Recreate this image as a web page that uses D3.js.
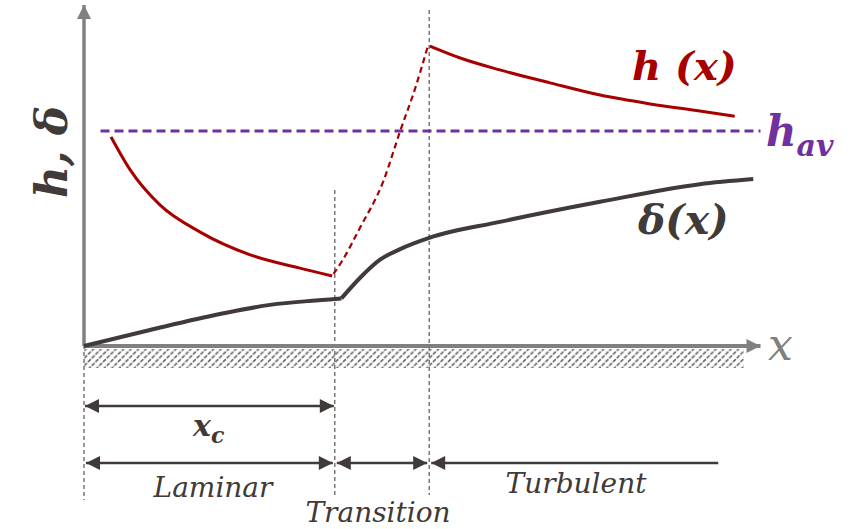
<!DOCTYPE html>
<html lang="en">
<head>
    <meta charset="UTF-8">
    <title>Boundary layer: h and delta</title>
    <style>
        body { margin: 0; padding: 0; background: #fff; }
        svg { display: block; }
        text { font-family: "DejaVu Serif", serif; font-style: italic; }
    </style>
</head>
<body>
<svg width="851" height="529" id="chart"></svg>

<script src="https://d3js.org/d3.v7.min.js"></script>
<script>
    // x position along the plate (0..10), y in arbitrary units (0..10)
    const xc = 3.80;          // end of laminar region
    const xTurb = 5.23;       // start of turbulent region
    const xPlateEnd = 10;
    const hav = 6.32;

    const deltaLaminarX = [0, 1.0, 2.06, 2.82, 3.45, 3.80, 3.90];
    const deltaLaminarY = [0, 0.47, 0.94, 1.21, 1.33, 1.38, 1.40];
    const deltaTurbX = [3.90, 4.18, 4.48, 4.79, 5.23, 6.30, 7.82, 9.33, 10.14];
    const deltaTurbY = [1.40, 2.00, 2.53, 2.85, 3.18, 3.65, 4.24, 4.76, 4.91];

    const hLaminarX = [0.41, 0.70, 1.15, 1.76, 2.52, 3.27, 3.76];
    const hLaminarY = [6.15, 5.18, 4.15, 3.35, 2.68, 2.29, 2.06];
    const hTransX = [3.78, 3.91, 4.18, 4.53, 4.79, 5.02, 5.21];
    const hTransY = [2.12, 2.50, 3.47, 4.82, 6.32, 7.59, 8.82];
    const hTurbX = [5.24, 5.70, 6.30, 7.06, 7.82, 8.58, 9.33, 9.86];
    const hTurbY = [8.82, 8.47, 8.12, 7.74, 7.38, 7.12, 6.91, 6.76];

    const zoneNames = ["Laminar", "Transition", "Turbulent"];
    const zoneStart = [0, xc, xTurb];
    const zoneEnd = [xc, xTurb, 9.61];

    const svg = d3.select("#chart");
    const x = d3.scaleLinear().domain([0, 10]).range([84, 744]);
    const y = d3.scaleLinear().domain([0, 10]).range([346, 6]);

    const red = "#a80000", dark = "#403a38", gray = "#808080", purple = "#7030a0";

    const defs = svg.append("defs");
    defs.append("pattern")
        .attr("id", "hatch")
        .attr("patternUnits", "userSpaceOnUse")
        .attr("width", 7.5).attr("height", 7.5)
        .append("path")
        .attr("d", "M-2,9.5 L9.5,-2 M-5.75,5.75 L5.75,-5.75 M1.75,13.25 L13.25,1.75")
        .attr("stroke", "#6a6a6a")
        .attr("stroke-width", 1.7)
        .attr("stroke-dasharray", "4,1.3");

    function arrowMarker(id, color, orient) {
        defs.append("marker")
            .attr("id", id)
            .attr("viewBox", "0 0 10 10")
            .attr("refX", 10).attr("refY", 5)
            .attr("markerUnits", "userSpaceOnUse")
            .attr("markerWidth", 16).attr("markerHeight", 14)
            .attr("orient", orient)
            .append("path")
            .attr("d", "M0,0 L10,5 L0,10 Z")
            .attr("fill", color);
    }
    arrowMarker("axisArrow", gray, "auto");
    arrowMarker("dimEnd", dark, "auto");
    arrowMarker("dimStart", dark, "auto-start-reverse");

    // plate
    svg.append("rect")
        .attr("x", x(0)).attr("y", y(0) + 3)
        .attr("width", x(xPlateEnd) - x(0)).attr("height", 19)
        .attr("fill", "url(#hatch)");

    // guide lines
    const guides = [
        {v: 0, top: 345, bottom: 500},
        {v: xc, top: 190, bottom: 495},
        {v: xTurb, top: 10, bottom: 495}
    ];
    svg.selectAll(".guide").data(guides).enter().append("line")
        .attr("class", "guide")
        .attr("x1", d => x(d.v)).attr("x2", d => x(d.v))
        .attr("y1", d => d.top).attr("y2", d => d.bottom)
        .attr("stroke", "#555").attr("stroke-width", 1.2)
        .attr("stroke-dasharray", "4,3");

    // axes
    svg.append("line")
        .attr("x1", x(0)).attr("y1", y(0))
        .attr("x2", x(0)).attr("y2", y(10) - 1)
        .attr("stroke", gray).attr("stroke-width", 3.5)
        .attr("marker-end", "url(#axisArrow)");
    svg.append("line")
        .attr("x1", x(0)).attr("y1", y(0))
        .attr("x2", x(10.25)).attr("y2", y(0))
        .attr("stroke", gray).attr("stroke-width", 4)
        .attr("marker-end", "url(#axisArrow)");

    const line = d3.line().x(d => x(d[0])).y(d => y(d[1])).curve(d3.curveMonotoneX);
    const zip = (a, b) => a.map((v, i) => [v, b[i]]);

    // h_av
    svg.append("line")
        .attr("x1", x(0.25)).attr("x2", x(10.25))
        .attr("y1", y(hav)).attr("y2", y(hav))
        .attr("stroke", purple).attr("stroke-width", 3)
        .attr("stroke-dasharray", "9,5");

    // delta(x)
    svg.append("path").datum(zip(deltaLaminarX, deltaLaminarY))
        .attr("d", line).attr("fill", "none")
        .attr("stroke", dark).attr("stroke-width", 4);
    svg.append("path").datum(zip(deltaTurbX, deltaTurbY))
        .attr("d", line).attr("fill", "none")
        .attr("stroke", dark).attr("stroke-width", 4);

    // h(x)
    svg.append("path").datum(zip(hLaminarX, hLaminarY))
        .attr("d", line).attr("fill", "none")
        .attr("stroke", red).attr("stroke-width", 3);
    svg.append("path").datum(zip(hTransX, hTransY))
        .attr("d", line).attr("fill", "none")
        .attr("stroke", red).attr("stroke-width", 2.2)
        .attr("stroke-dasharray", "6,4");
    svg.append("path").datum(zip(hTurbX, hTurbY))
        .attr("d", line).attr("fill", "none")
        .attr("stroke", red).attr("stroke-width", 3);

    // dimension arrows
    function dim(x1, x2, yy, both) {
        svg.append("line")
            .attr("x1", x1).attr("x2", x2).attr("y1", yy).attr("y2", yy)
            .attr("stroke", dark).attr("stroke-width", 2.5)
            .attr("marker-start", "url(#dimStart)")
            .attr("marker-end", both ? "url(#dimEnd)" : null);
    }
    dim(x(0) + 1, x(xc) - 1, 406, true);
    zoneNames.forEach((n, i) => {
        dim(x(zoneStart[i]) + 2, x(zoneEnd[i]) - (i === 2 ? 0 : 2), 463, i < 2);
    });

    // labels
    const labelPos = [{cx: 213, by: 497}, {cx: 378, by: 522}, {cx: 576, by: 493}];
    svg.selectAll(".zone").data(zoneNames).enter().append("text")
        .attr("class", "zone")
        .attr("x", (d, i) => labelPos[i].cx).attr("y", (d, i) => labelPos[i].by)
        .attr("text-anchor", "middle")
        .attr("font-size", 28).attr("fill", dark)
        .text(d => d);

    const xcLabel = svg.append("text")
        .attr("x", 193).attr("y", 436)
        .attr("font-size", 30).attr("font-weight", "bold").attr("fill", dark);
    xcLabel.append("tspan").text("x");
    xcLabel.append("tspan").attr("dy", 7).attr("font-size", 22).text("c");

    svg.append("text")
        .attr("x", 768).attr("y", 360)
        .attr("font-size", 44).attr("fill", gray)
        .text("x");

    svg.append("text")
        .attr("transform", "translate(67,152) rotate(-90)")
        .attr("text-anchor", "middle")
        .attr("font-size", 44).attr("font-weight", "bold").attr("fill", dark)
        .text("h, δ");

    svg.append("text")
        .attr("x", 632).attr("y", 80)
        .attr("font-size", 40).attr("font-weight", "bold").attr("fill", red)
        .text("h (x)");

    svg.append("text")
        .attr("x", 638).attr("y", 234)
        .attr("font-size", 41).attr("font-weight", "bold").attr("fill", dark)
        .text("δ(x)");

    const havLabel = svg.append("text")
        .attr("x", 766).attr("y", 146)
        .attr("font-size", 42).attr("font-weight", "bold").attr("fill", purple);
    havLabel.append("tspan").text("h");
    havLabel.append("tspan").attr("dy", 10).attr("font-size", 30).text("av");
</script>
</body>
</html>
